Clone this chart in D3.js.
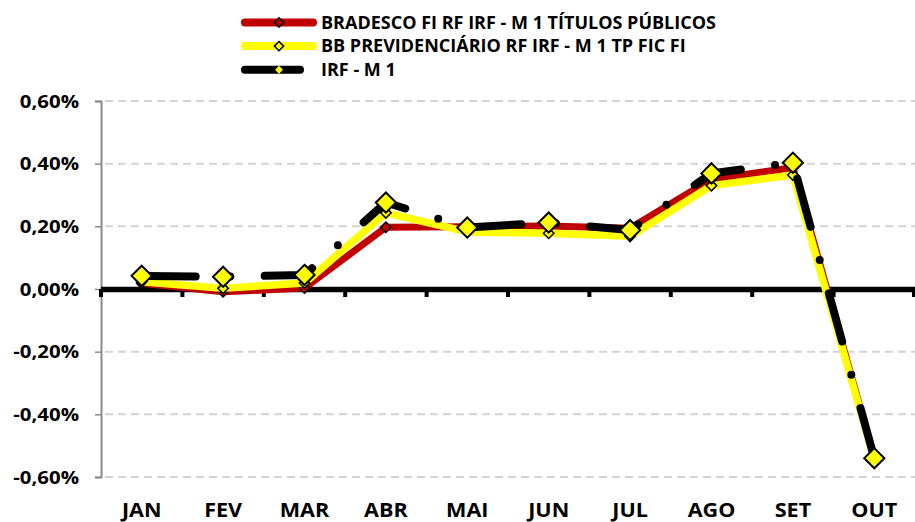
<!DOCTYPE html>
<html>
  <head>
    <meta charset="utf-8">
    <script type="text/javascript" src="https://cdn.jsdelivr.net/npm/d3@7"></script>
    <style type="text/css">
      body { margin: 0; background: #ffffff; }
      text { font-family: "Open Sans", sans-serif; font-weight: 700; fill: #000000; }
    </style>
  </head>
  <body>
    <script type="text/javascript">
      // Chart data (monthly returns, in %)
      var months = ["JAN", "FEV", "MAR", "ABR", "MAI", "JUN", "JUL", "AGO", "SET", "OUT"];
      var bradesco = [0.018, -0.009, 0.003, 0.197, 0.199, 0.201, 0.194, 0.350, 0.387, -0.540];
      var bb = [0.023, 0.002, 0.019, 0.243, 0.182, 0.178, 0.168, 0.330, 0.364, -0.545];
      var irf = [0.042, 0.039, 0.045, 0.276, 0.196, 0.212, 0.188, 0.369, 0.403, -0.540];
      var yTicks = [0.6, 0.4, 0.2, 0, -0.2, -0.4, -0.6];
      var seriesNames = ["BRADESCO FI RF IRF - M 1 TÍTULOS PÚBLICOS",
                         "BB PREVIDENCIÁRIO RF IRF - M 1 TP FIC FI",
                         "IRF - M 1"];

      var width = 915;
      var height = 522;
      var margin = {top: 101, bottom: 45, left: 101, right: 0};

      var svg = d3.select("body").append("svg")
        .attr("width", width).attr("height", height);

      // Scales
      var x = d3.scaleBand().domain(months)
        .range([margin.left, width - margin.right]).padding(0);
      var y = d3.scaleLinear().domain([-0.6, 0.6])
        .range([height - margin.bottom, margin.top]);
      var cx = function(d, i){ return x(months[i]) + x.bandwidth() / 2; };

      // Dashed gridlines
      svg.append("g").selectAll("line")
        .data(yTicks.filter(function(d){ return d !== 0; })).enter()
        .append("line")
        .attr("x1", margin.left + 4).attr("x2", width)
        .attr("y1", function(d){ return y(d); })
        .attr("y2", function(d){ return y(d); })
        .attr("stroke", "#d4d4d4").attr("stroke-width", 2)
        .attr("stroke-dasharray", "8,5");

      // Y axis (grey line with outer ticks); labels are a bit wider than the font
      var fmt = function(d){ return d3.format(".2f")(d).replace(".", ",").replace("−", "-") + "%"; };
      var yAxis = d3.axisLeft(y).tickValues(yTicks).tickSize(6).tickFormat(fmt);
      var gy = svg.append("g").attr("transform", "translate(" + margin.left + ",0)").call(yAxis);
      gy.select(".domain").attr("stroke", "#8a8a8a").attr("stroke-width", 2);
      gy.selectAll(".tick line").attr("stroke", "#8a8a8a").attr("stroke-width", 1.5);
      gy.selectAll(".tick text").attr("x", -22 / 1.2).attr("dy", "0.36em")
        .attr("transform", "scale(1.2,1)")
        .style("font-size", "17px").style("font-family", "'Open Sans', sans-serif")
        .style("font-weight", 700).attr("fill", "#000");

      // Zero line with category ticks
      var zero = svg.append("g");
      zero.selectAll("line.tk")
        .data(months.concat(["end"])).enter()
        .append("line").attr("class", "tk")
        .attr("x1", function(d){ return d === "end" ? width - 1 : x(d); })
        .attr("x2", function(d){ return d === "end" ? width - 1 : x(d); })
        .attr("y1", y(0)).attr("y2", y(0) + 8)
        .attr("stroke", "#000").attr("stroke-width", 4);
      zero.append("line")
        .attr("x1", margin.left).attr("x2", width)
        .attr("y1", y(0) + 0.5).attr("y2", y(0) + 0.5)
        .attr("stroke", "#000").attr("stroke-width", 5.5);

      // X labels
      svg.append("g").selectAll("text")
        .data(months).enter().append("text")
        .attr("transform", function(d){
          return "translate(" + (x(d) + x.bandwidth() / 2) + ",517) scale(1.08,1)";
        })
        .attr("text-anchor", "middle")
        .style("font-size", "20px")
        .text(function(d){ return d; });

      var line = d3.line().x(cx).y(function(d){ return y(d); });

      function diamond(g, data, size, fill, sw){
        g.selectAll("path.mk").data(data).enter().append("path")
          .attr("class", "mk")
          .attr("d", d3.symbol().type(d3.symbolDiamond2).size(size))
          .attr("transform", function(d, i){
            return "translate(" + cx(d, i) + "," + y(d) + ")";
          })
          .attr("fill", fill).attr("stroke", "#000").attr("stroke-width", sw);
      }

      // Series 1: Bradesco (red)
      var s1 = svg.append("g");
      s1.append("path").datum(bradesco).attr("d", line)
        .attr("fill", "none").attr("stroke", "#c00000").attr("stroke-width", 7)
        .attr("stroke-linejoin", "round").attr("stroke-linecap", "round");
      diamond(s1, bradesco, 70, "#c00000", 1.5);

      // Series 2: BB (yellow)
      var s2 = svg.append("g");
      s2.append("path").datum(bb).attr("d", line)
        .attr("fill", "none").attr("stroke", "#ffff00").attr("stroke-width", 7.5)
        .attr("stroke-linejoin", "round").attr("stroke-linecap", "round");
      diamond(s2, bb, 70, "#ffff00", 1.5);

      // Series 3: IRF - M 1 (black long dash dot)
      var s3 = svg.append("g");
      s3.append("path").datum(irf).attr("d", line)
        .attr("fill", "none").attr("stroke", "#000").attr("stroke-width", 8)
        .attr("stroke-linejoin", "round").attr("stroke-linecap", "round")
        .attr("stroke-dasharray", "50,34.5,0,34.5").attr("stroke-dashoffset", -4);
      diamond(s3, irf, 260, "#ffff00", 2);

      // Legend
      var legColors = ["#c00000", "#ffff00", "#000000"];
      var legFill = ["#c00000", "#ffff00", "#ffff00"];
      var legend = svg.append("g");
      var rows = legend.selectAll("g").data(seriesNames).enter().append("g")
        .attr("transform", function(d, i){ return "translate(0," + (22.5 + i * 23.6) + ")"; });
      rows.append("line")
        .attr("x1", 245).attr("x2", function(d, i){ return i === 2 ? 300 : 313; })
        .attr("y1", 0).attr("y2", 0)
        .attr("stroke", function(d, i){ return legColors[i]; })
        .attr("stroke-width", 8).attr("stroke-linecap", "round");
      rows.append("path")
        .attr("d", function(d, i){ return d3.symbol().type(d3.symbolDiamond2).size(i === 2 ? 40 : 55)(); })
        .attr("transform", "translate(279,0)")
        .attr("fill", function(d, i){ return legFill[i]; })
        .attr("stroke", function(d, i){ return i === 2 ? "none" : "#000"; })
        .attr("stroke-width", 1.5);
      rows.append("text")
        .attr("x", 321).attr("y", 6)
        .style("font-size", "18px")
        .text(function(d){ return d; });
    </script>
  </body>
</html>
